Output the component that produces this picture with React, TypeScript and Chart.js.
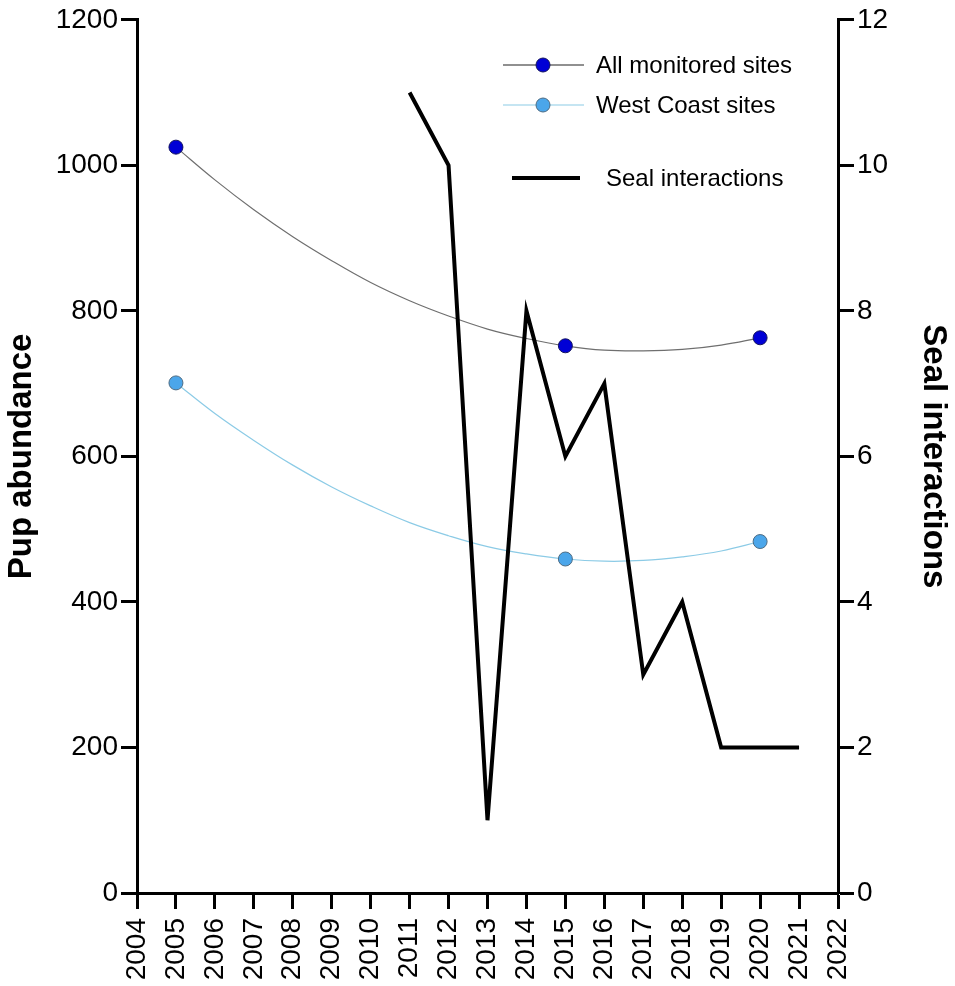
import { useEffect, useRef } from 'react';
import { Chart, registerables } from 'chart.js';

Chart.register(...registerables);

// survey counts of pups
const surveyYears = [2005, 2015, 2020];
const allSitesPups = [1025, 752, 763];
const westCoastPups = [701, 459, 483];

// fitted trend curves at each year
const trendYears = [2005, 2006, 2007, 2008, 2009, 2010, 2011, 2012, 2013, 2014, 2015, 2016, 2017, 2018, 2019, 2020];
const allSitesTrend = [1025, 980, 939, 902, 869, 839, 814, 793, 775, 762, 752, 746, 745, 747, 753, 763];
const westCoastTrend = [701, 659, 622, 588, 558, 532, 509, 491, 476, 466, 459, 456, 457, 462, 470, 483];

// seal interactions (right axis)
const sealYears = [2011, 2012, 2013, 2014, 2015, 2016, 2017, 2018, 2019, 2020, 2021];
const sealInteractions = [11, 10, 1, 8, 6, 7, 3, 4, 2, 2, 2];

// tick labels
const yearTicks = [2004, 2005, 2006, 2007, 2008, 2009, 2010, 2011, 2012, 2013, 2014, 2015, 2016, 2017, 2018, 2019, 2020, 2021, 2022];
const pupTicks = [0, 200, 400, 600, 800, 1000, 1200];
const sealTicks = [0, 2, 4, 6, 8, 10, 12];

const FONT = "'Liberation Sans', Arial, sans-serif";

const ALL_COLOR = '#0000d6';
const ALL_BORDER = '#14145e';
const WEST_COLOR = '#4ba6ea';
const WEST_BORDER = '#4d6b82';
const ALL_TREND = '#6f6f6f';
const WEST_TREND = '#8ccbe6';

const toPoints = (xs: number[], ys: number[]) => xs.map((x, i) => ({ x, y: ys[i] }));

const insideLegend = {
    id: 'insideLegend',
    afterDraw(chart: any) {
        const ctx = chart.ctx as CanvasRenderingContext2D;
        ctx.save();
        ctx.font = `24px ${FONT}`;
        ctx.textBaseline = 'middle';
        ctx.fillStyle = '#000';

        const marker = (y: number, line: string, fill: string, stroke: string, label: string) => {
            ctx.strokeStyle = line;
            ctx.lineWidth = 1.2;
            ctx.beginPath();
            ctx.moveTo(503, y);
            ctx.lineTo(584, y);
            ctx.stroke();
            ctx.beginPath();
            ctx.arc(543, y, 7, 0, Math.PI * 2);
            ctx.fillStyle = fill;
            ctx.fill();
            ctx.strokeStyle = stroke;
            ctx.lineWidth = 1;
            ctx.stroke();
            ctx.fillStyle = '#000';
            ctx.fillText(label, 596, y + 1);
        };

        marker(65, '#222', ALL_COLOR, ALL_BORDER, 'All monitored sites');
        marker(105, WEST_TREND, WEST_COLOR, WEST_BORDER, 'West Coast sites');

        ctx.strokeStyle = '#000';
        ctx.lineWidth = 4;
        ctx.beginPath();
        ctx.moveTo(512, 178);
        ctx.lineTo(580, 178);
        ctx.stroke();
        ctx.fillText('Seal interactions', 606, 179);
        ctx.restore();
    }
};

export default function App() {
    const canvasRef = useRef<HTMLCanvasElement>(null);

    useEffect(() => {
        if (!canvasRef.current) return;
        Chart.defaults.font.family = FONT;
        Chart.defaults.color = '#000';

        const axisGrid = {
            display: true,
            drawOnChartArea: false,
            drawTicks: true,
            tickLength: 16,
            tickWidth: 3,
            color: '#000'
        };
        const tickFont = { family: FONT, size: 28 };
        const titleFont = { family: FONT, size: 33, weight: 'bold' as const };

        const chart = new Chart(canvasRef.current, {
            type: 'line',
            data: {
                datasets: [
                    {
                        label: 'All monitored sites (trend)',
                        data: toPoints(trendYears, allSitesTrend),
                        borderColor: ALL_TREND,
                        borderWidth: 1.2,
                        pointRadius: 0,
                        tension: 0.4,
                        yAxisID: 'y',
                        order: 3
                    },
                    {
                        label: 'West Coast sites (trend)',
                        data: toPoints(trendYears, westCoastTrend),
                        borderColor: WEST_TREND,
                        borderWidth: 1.2,
                        pointRadius: 0,
                        tension: 0.4,
                        yAxisID: 'y',
                        order: 3
                    },
                    {
                        label: 'Seal interactions',
                        data: toPoints(sealYears, sealInteractions),
                        borderColor: '#000',
                        borderWidth: 4,
                        borderJoinStyle: 'miter',
                        pointRadius: 0,
                        tension: 0,
                        yAxisID: 'y1',
                        order: 2
                    },
                    {
                        label: 'All monitored sites',
                        data: toPoints(surveyYears, allSitesPups),
                        showLine: false,
                        pointRadius: 7,
                        pointBackgroundColor: ALL_COLOR,
                        pointBorderColor: ALL_BORDER,
                        pointBorderWidth: 1,
                        yAxisID: 'y',
                        order: 1
                    },
                    {
                        label: 'West Coast sites',
                        data: toPoints(surveyYears, westCoastPups),
                        showLine: false,
                        pointRadius: 7,
                        pointBackgroundColor: WEST_COLOR,
                        pointBorderColor: WEST_BORDER,
                        pointBorderWidth: 1,
                        yAxisID: 'y',
                        order: 1
                    }
                ]
            },
            options: {
                responsive: true,
                maintainAspectRatio: false,
                animation: false,
                layout: { padding: { top: 17, left: 0, right: 0, bottom: 0 } },
                plugins: {
                    legend: { display: false },
                    tooltip: { enabled: false }
                },
                scales: {
                    x: {
                        type: 'linear',
                        position: 'bottom',
                        min: 2004,
                        max: 2022,
                        border: { color: '#000', width: 3 },
                        grid: axisGrid,
                        afterBuildTicks: (s: any) => { s.ticks = yearTicks.map(v => ({ value: v })); },
                        afterFit: (s: any) => { s.height = 93; },
                        ticks: {
                            color: '#000',
                            font: tickFont,
                            minRotation: 90,
                            maxRotation: 90,
                            autoSkip: false,
                            padding: 9,
                            callback: (v: any) => String(v)
                        }
                    },
                    y: {
                        type: 'linear',
                        position: 'left',
                        min: 0,
                        max: 1200,
                        border: { color: '#000', width: 3 },
                        grid: axisGrid,
                        afterBuildTicks: (s: any) => { s.ticks = pupTicks.map(v => ({ value: v })); },
                        afterFit: (s: any) => { s.width = 137; },
                        ticks: { color: '#000', font: tickFont, padding: 3, callback: (v: any) => String(v) },
                        title: { display: true, text: 'Pup abundance', color: '#000', font: titleFont, padding: 2 }
                    },
                    y1: {
                        type: 'linear',
                        position: 'right',
                        min: 0,
                        max: 12,
                        border: { color: '#000', width: 3 },
                        grid: axisGrid,
                        afterBuildTicks: (s: any) => { s.ticks = sealTicks.map(v => ({ value: v })); },
                        afterFit: (s: any) => { s.width = 117; },
                        ticks: { color: '#000', font: tickFont, padding: 3, callback: (v: any) => String(v) },
                        title: { display: true, text: 'Seal interactions', color: '#000', font: titleFont, padding: 2 }
                    }
                }
            },
            plugins: [insideLegend]
        });

        return () => chart.destroy();
    }, []);

    return (
        <div style={{ position: 'fixed', left: 0, top: 0, width: 955, height: 986, background: '#fff' }}>
            <canvas ref={canvasRef} />
        </div>
    );
}
